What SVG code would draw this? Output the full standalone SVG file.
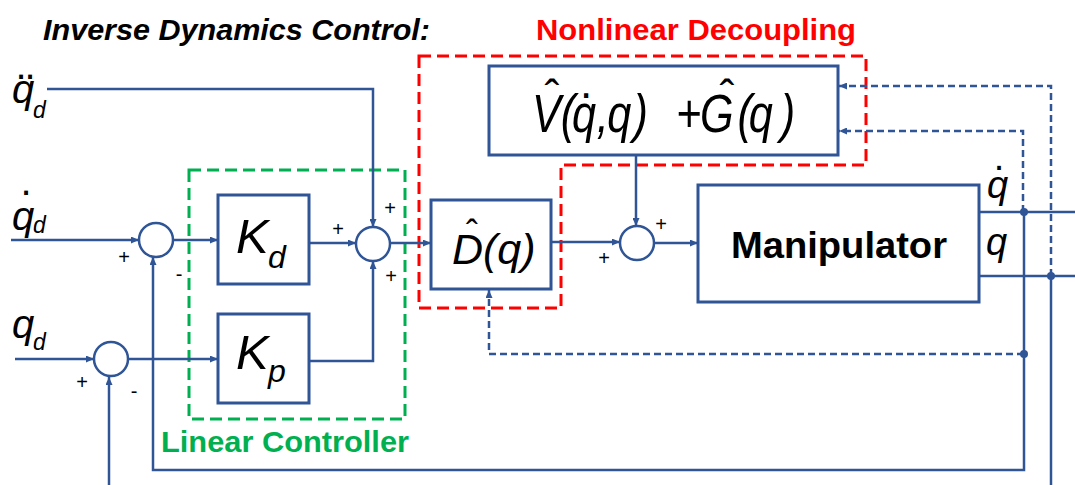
<svg xmlns="http://www.w3.org/2000/svg" width="1075" height="485" viewBox="0 0 1075 485">
<style>
.bx{fill:#fff;stroke:#2F5597;stroke-width:3}
.ln{fill:none;stroke:#2F5597;stroke-width:2.5}
.ar{marker-end:url(#ah)}
.ds{fill:none;stroke:#2F5597;stroke-width:2.5;stroke-dasharray:7 4}
.sum{fill:#fff;stroke:#2F5597;stroke-width:2.5}
.dot{fill:#2F5597}
.it{font-family:"Liberation Sans",Arial,sans-serif;font-style:italic;fill:#000}
.rm{font-family:"Liberation Sans",Arial,sans-serif;fill:#000}
.sg{font-family:"Liberation Sans",Arial,sans-serif;font-size:20px;fill:#000;text-anchor:middle}
.bd{font-family:"Liberation Sans",Arial,sans-serif;font-weight:bold}
</style>
<defs>
<marker id="ah" viewBox="0 0 8 7" refX="8" refY="3.5" markerWidth="8" markerHeight="7" markerUnits="userSpaceOnUse" orient="auto">
<path d="M0,0 L8,3.5 L0,7 z" fill="#2F5597"/>
</marker>
</defs>
<rect width="1075" height="485" fill="#fff"/>

<text class="bd" x="43" y="40" font-size="30" font-style="italic" fill="#000" textLength="387" lengthAdjust="spacingAndGlyphs">Inverse Dynamics Control:</text>
<text class="bd" x="536" y="40" font-size="29" fill="#FF0000" textLength="320" lengthAdjust="spacingAndGlyphs">Nonlinear Decoupling</text>

<g id="nonlinear-decoupling-region">
<path d="M419,56 H866 V165 H561 V308 H419 Z" fill="none" stroke="#FF0000" stroke-width="3" stroke-dasharray="12 6"/>
</g>
<g id="linear-controller-region">
<rect x="189" y="170" width="216" height="249" fill="none" stroke="#00B050" stroke-width="3" stroke-dasharray="12 6"/>
<text class="bd" x="161" y="452" font-size="30" fill="#00B050" textLength="248" lengthAdjust="spacingAndGlyphs">Linear Controller</text>
</g>

<g id="connectors">
<polyline class="ln ar" points="47,89 373,89 373,227"/>
<line class="ln ar" x1="11" y1="240" x2="139" y2="240"/>
<line class="ln ar" x1="173" y1="240" x2="218" y2="240"/>
<line class="ln ar" x1="309" y1="243" x2="356" y2="243"/>
<polyline class="ln ar" points="309,361 373,361 373,261"/>
<line class="ln ar" x1="390" y1="243" x2="431" y2="243"/>
<line class="ln ar" x1="15" y1="359" x2="94" y2="359"/>
<line class="ln ar" x1="128" y1="359" x2="218" y2="359"/>
<line class="ln ar" x1="109" y1="485" x2="109" y2="377"/>
<polyline class="ln ar" points="1024,212 1024,470 153,470 153,257"/>
<line class="ln ar" x1="551" y1="242" x2="620" y2="242"/>
<line class="ln ar" x1="636" y1="155" x2="636" y2="226"/>
<line class="ln ar" x1="654" y1="243" x2="698" y2="243"/>
<line class="ln" x1="979" y1="212" x2="1075" y2="212"/>
<line class="ln" x1="979" y1="276" x2="1075" y2="276"/>
<line class="ln" x1="1051" y1="276" x2="1051" y2="485"/>
<polyline class="ds ar" points="1024,354 489,354 489,290"/>
<polyline class="ds ar" points="1023,212 1023,131 839,131"/>
<polyline class="ds ar" points="1051,276 1051,86 839,86"/>
<circle class="dot" cx="1024" cy="212" r="4"/>
<circle class="dot" cx="1051" cy="276" r="4"/>
<circle class="dot" cx="1024" cy="354" r="4"/>
</g>

<g id="input-qdd">
<text class="it" x="12" y="103" font-size="40">q</text>
<text class="rm" x="21" y="79" font-size="40" text-anchor="middle">.</text>
<text class="rm" x="30" y="79" font-size="40" text-anchor="middle">.</text>
<text class="it" x="33" y="118" font-size="23">d</text>
</g>
<g id="input-qd-dot">
<text class="it" x="12" y="230" font-size="40">q</text>
<text class="rm" x="26" y="195" font-size="40" text-anchor="middle">.</text>
<text class="it" x="33" y="233" font-size="23">d</text>
</g>
<g id="input-qd">
<text class="it" x="12" y="338" font-size="40">q</text>
<text class="it" x="33" y="350" font-size="23">d</text>
</g>

<g id="sum1">
<circle class="sum" cx="156" cy="240" r="17"/>
<text class="sg" x="124" y="264">+</text>
<text class="sg" x="179" y="281">-</text>
</g>
<g id="sum2">
<circle class="sum" cx="373" cy="244" r="17"/>
<text class="sg" x="338" y="236">+</text>
<text class="sg" x="390" y="215">+</text>
<text class="sg" x="391" y="283">+</text>
</g>
<g id="sum3">
<circle class="sum" cx="111" cy="359" r="17"/>
<text class="sg" x="82" y="389">+</text>
<text class="sg" x="134" y="398">-</text>
</g>
<g id="sum4">
<circle class="sum" cx="637" cy="243" r="17"/>
<text class="sg" x="604" y="265">+</text>
<text class="sg" x="661" y="231">+</text>
</g>

<g id="Kd">
<rect class="bx" x="218" y="195" width="91" height="89"/>
<text class="it" x="236" y="253" font-size="49">K</text>
<text class="it" x="268" y="268" font-size="32">d</text>
</g>
<g id="Kp">
<rect class="bx" x="218" y="314" width="91" height="89"/>
<text class="it" x="236" y="369" font-size="49">K</text>
<text class="it" x="268" y="382" font-size="32">p</text>
</g>
<g id="Dq">
<rect class="bx" x="431" y="200" width="120" height="89"/>
<text class="it" x="452" y="264" font-size="43">D(q)</text>
<text class="rm" x="472" y="246" font-size="36" text-anchor="middle">ˆ</text>
</g>
<g id="VG">
<rect class="bx" x="489" y="66" width="349" height="89"/>
<text class="it" transform="translate(532,132) scale(0.8,1)" font-size="54" x="0 36 50 81 94 127 180 210 257 271 311" y="0">V(q,q)+G(q)</text>
<text class="rm" x="552" y="111" font-size="44" text-anchor="middle">ˆ</text>
<text class="rm" x="727" y="111" font-size="44" text-anchor="middle">ˆ</text>
<text class="rm" x="586" y="98" font-size="44" text-anchor="middle">.</text>
</g>
<g id="manipulator">
<rect class="bx" x="698" y="185" width="281" height="117"/>
<text class="bd" x="731" y="258" font-size="37" fill="#000" textLength="216" lengthAdjust="spacingAndGlyphs">Manipulator</text>
<text class="it" x="987" y="198" font-size="38">q</text>
<text class="rm" x="999" y="170" font-size="38" text-anchor="middle">.</text>
<text class="it" x="986" y="255" font-size="38">q</text>
</g>
</svg>
